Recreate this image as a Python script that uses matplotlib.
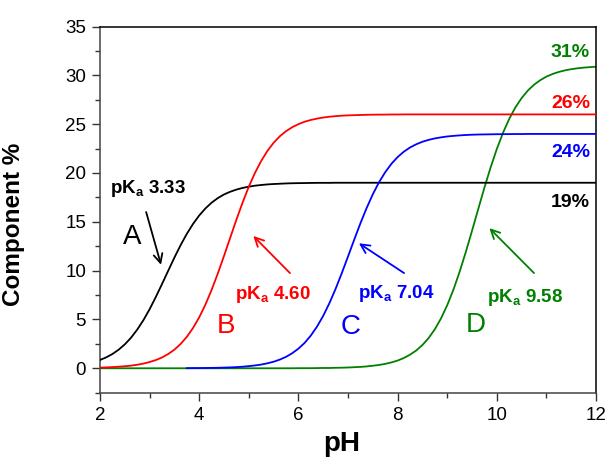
import numpy as np
import matplotlib
matplotlib.use("Agg")
import matplotlib.pyplot as plt
from matplotlib.ticker import MultipleLocator

plt.rcParams['font.family'] = ['Liberation Sans', 'DejaVu Sans']
plt.rcParams['mathtext.fontset'] = 'custom'
plt.rcParams['mathtext.bf'] = 'Liberation Sans:bold'
plt.rcParams['mathtext.rm'] = 'Liberation Sans'

# pH grid: 2 to 12 in steps of 0.125 (81 points)
ph = [round(2 + 0.125 * i, 3) for i in range(81)]

comp_A = [0.85, 1.12, 1.46, 1.90, 2.45, 3.13, 3.96, 4.93, 6.05, 7.30,
          8.63, 9.99, 11.34, 12.61, 13.77, 14.78, 15.65, 16.37, 16.96, 17.43,
          17.80, 18.08, 18.30, 18.47, 18.60, 18.70, 18.77, 18.83, 18.87, 18.90,
          18.93, 18.95, 18.96, 18.97, 18.98, 18.99, 18.99, 18.99] + [19.00] * 43
comp_B = [0.07, 0.09, 0.12, 0.16, 0.21, 0.27, 0.36, 0.48, 0.64, 0.84,
          1.11, 1.46, 1.91, 2.49, 3.22, 4.12, 5.22, 6.52, 8.03, 9.71,
          11.51, 13.37, 15.22, 16.98, 18.60, 20.02, 21.24, 22.26, 23.09, 23.76,
          24.28, 24.69, 25.00, 25.25, 25.43, 25.57, 25.68, 25.76, 25.82, 25.87,
          25.90, 25.92, 25.94, 25.96, 25.97, 25.98, 25.98, 25.99, 25.99] + [26.00] * 32
comp_C = [None] * 14 + [
          0.01, 0.02, 0.02, 0.03, 0.04, 0.05, 0.07, 0.09, 0.12, 0.16,
          0.22, 0.29, 0.38, 0.51, 0.67, 0.89, 1.17, 1.54, 2.01, 2.60,
          3.35, 4.27, 5.37, 6.67, 8.14, 9.75, 11.45, 13.17, 14.85, 16.41,
          17.82, 19.05, 20.08, 20.94, 21.63, 22.18, 22.61, 22.94, 23.20, 23.39,
          23.54, 23.65, 23.74, 23.80, 23.85, 23.89, 23.92, 23.94, 23.95, 23.96,
          23.97, 23.98, 23.98, 23.99, 23.99] + [24.00] * 12
comp_D = [0.00] * 32 + [
          0.01, 0.01, 0.01, 0.02, 0.03, 0.03, 0.05, 0.06, 0.08, 0.11,
          0.14, 0.19, 0.26, 0.34, 0.45, 0.60, 0.79, 1.05, 1.39, 1.82,
          2.38, 3.10, 3.99, 5.11, 6.46, 8.05, 9.88, 11.91, 14.08, 16.30,
          18.50, 20.57, 22.46, 24.12, 25.54, 26.72, 27.67, 28.44, 29.04, 29.50,
          29.87, 30.14, 30.35, 30.51, 30.63, 30.72, 30.79, 30.84, 30.88]

letters = ['A', 'B', 'C', 'D']
pka_values = ['3.33', '4.60', '7.04', '9.58']
plateau_labels = ['19%', '26%', '24%', '31%']
colors = ['black', '#ff0000', '#0000ff', '#008000']

fig = plt.figure(figsize=(6.08, 4.58), dpi=100)
ax = fig.add_axes([0.1645, 0.1426, 0.8158, 0.7995])

series = [comp_A, comp_B, comp_C, comp_D]
zorders = [3, 4, 5, 2]
for vals, c, z in zip(series, colors, zorders):
    n = min(len(ph), len(vals))
    x = np.array(ph[:n], dtype=float)
    y = np.array([np.nan if v is None else v for v in vals[:n]], dtype=float)
    ax.plot(x, y, color=c, lw=1.3, zorder=z)

ax.set_xlim(2, 12)
ax.set_ylim(-2.5, 35)
ax.xaxis.set_major_locator(MultipleLocator(2))
ax.xaxis.set_minor_locator(MultipleLocator(1))
ax.yaxis.set_major_locator(MultipleLocator(5))
ax.yaxis.set_minor_locator(MultipleLocator(2.5))
ax.tick_params(which='both', direction='out', top=False, right=False,
               labelsize=13.5, width=1.0, color='#333333')
ax.tick_params(which='major', length=6, pad=4)
ax.tick_params(which='minor', length=3.5)
for s in ax.spines.values():
    s.set_linewidth(1.1)
ax.spines['left'].set_color('#444444')
ax.spines['bottom'].set_color('#444444')

ax.set_xlabel('pH', fontsize=20, fontweight='bold')
ax.xaxis.set_label_coords(0.487, -0.105)
ax.set_ylabel('Component %', fontsize=17.5, fontweight='bold')
ax.yaxis.set_label_coords(-0.152, 0.46)

# pKa labels (data coordinates)
pka_pos = [(2.20, 17.9), (4.72, 7.06), (7.20, 7.16), (9.81, 6.82)]
letter_pos = [(2.46, 12.72), (4.36, 3.58), (6.85, 3.51), (9.38, 3.75)]
arrow_tail = [(2.93, 16.0), (5.83, 9.75), (8.13, 9.75), (10.75, 9.75)]
arrow_head = [(3.23, 10.6), (5.09, 13.55), (7.22, 12.8), (9.85, 14.35)]
for i in range(4):
    c = colors[i]
    ax.text(pka_pos[i][0], pka_pos[i][1],
            r'$\mathbf{pK_a}$ ' + r'$\mathbf{' + pka_values[i] + '}$',
            color=c, fontsize=13.5, ha='left', va='baseline')
    ax.text(letter_pos[i][0], letter_pos[i][1], letters[i], color=c,
            fontsize=20, ha='left', va='baseline')
    ax.annotate('', xy=arrow_head[i], xytext=arrow_tail[i],
                arrowprops=dict(arrowstyle='->', color=c, lw=1.3,
                                mutation_scale=16, shrinkA=0, shrinkB=0))

plateau_y = [16.54, 26.61, 21.66, 31.83]
for lab, yv, c in zip(plateau_labels, plateau_y, colors):
    ax.text(11.88, yv, lab, color=c, fontsize=14, fontweight='bold',
            ha='right', va='baseline')

fig.savefig('out.png', dpi=100, facecolor='white')
